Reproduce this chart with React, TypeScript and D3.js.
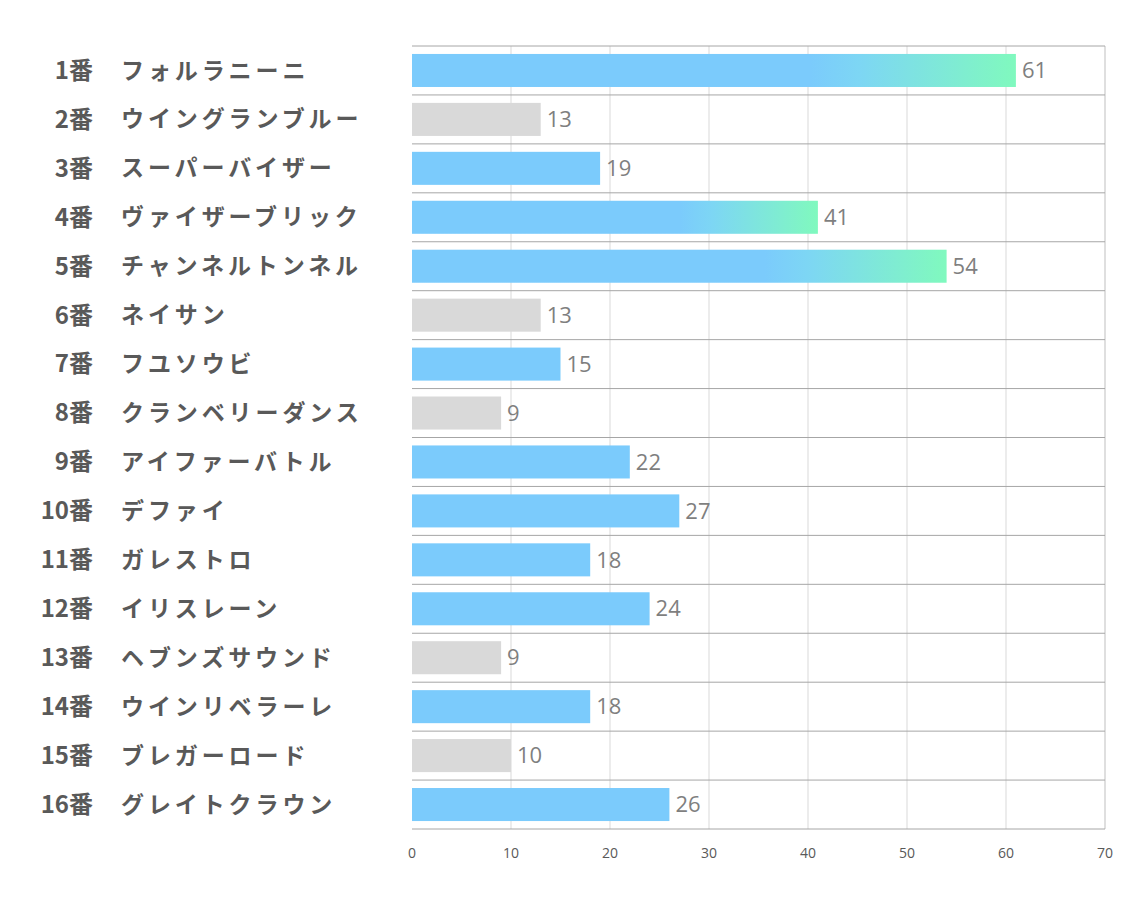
import React from "react";
import * as d3 from "d3";

const numbers = ["1番","2番","3番","4番","5番","6番","7番","8番","9番","10番","11番","12番","13番","14番","15番","16番"];
const names = ["フォルラニーニ","ウイングランブルー","スーパーバイザー","ヴァイザーブリック","チャンネルトンネル","ネイサン","フユソウビ","クランベリーダンス","アイファーバトル","デファイ","ガレストロ","イリスレーン","ヘブンズサウンド","ウインリベラーレ","ブレガーロード","グレイトクラウン"];
const values = [61,13,19,41,54,13,15,9,22,27,18,24,9,18,10,26];
// bar kind: "grad" = blue→green gradient, "blue", "gray"
const kinds = ["grad","gray","blue","grad","grad","gray","blue","gray","blue","blue","blue","blue","gray","blue","gray","blue"];
const xTicks = [0,10,20,30,40,50,60,70];

export default function App() {
  const W = 1134, H = 907;
  const left = 412, right = 1105, top = 46, bottom = 829;
  const x = d3.scaleLinear().domain([0, 70]).range([left, right]);
  const y = d3.scaleBand<number>().domain(d3.range(values.length)).range([top, bottom]).paddingInner(0.325).paddingOuter(0.1625);
  const step = y.step();
  const bw = y.bandwidth();
  const rowEdges = d3.range(values.length + 1).map(i => top + i * step);
  const fill = (k: string) => k === "grad" ? "url(#barGrad)" : k === "gray" ? "#D9D9D9" : "#7BCBFC";
  return (
    <svg width={W} height={H} style={{ position: "absolute", left: 0, top: 0, background: "#fff" }}>
      <defs>
        <linearGradient id="barGrad" x1="0" y1="0" x2="1" y2="0">
          <stop offset="0" stopColor="#7BCBFC" />
          <stop offset="0.66" stopColor="#7BCBFC" />
          <stop offset="0.74" stopColor="#7DD6F4" />
          <stop offset="1" stopColor="#80F9BE" />
        </linearGradient>
      </defs>
      <rect x={0} y={0} width={W} height={H} fill="#fff" />
      {xTicks.slice(1, -1).map(t => (
        <line key={"v" + t} x1={x(t)} x2={x(t)} y1={top} y2={bottom} stroke="#D9D9D9" strokeWidth={1} />
      ))}
      <line x1={x(70)} x2={x(70)} y1={top} y2={bottom} stroke="#BFBFBF" strokeWidth={1} />
      {rowEdges.map((yy, i) => (
        <line key={"h" + i} x1={left} x2={right} y1={yy} y2={yy} stroke="#A6A6A6" strokeWidth={1} />
      ))}
      {values.map((v, i) => (
        <rect key={"b" + i} x={x(0)} y={y(i)!} width={x(v) - x(0)} height={bw} fill={fill(kinds[i])} />
      ))}
      {values.map((v, i) => (
        <text key={"l" + i} x={x(v) + 6} y={y(i)! + bw / 2} dy="0.35em" fontSize={22}
          fontFamily="'Liberation Sans Narrow', 'Open Sans', sans-serif" fill="#7F7F7F">{v}</text>
      ))}
      {numbers.map((n, i) => (
        <text key={"n" + i} x={93} y={y(i)! + bw / 2} dy="0.35em" textAnchor="end" fontSize={24} fontWeight="bold"
          fontFamily="'Noto Sans CJK JP', sans-serif" fill="#595959">{n}</text>
      ))}
      {names.map((n, i) => (
        <text key={"m" + i} x={121} y={y(i)! + bw / 2} dy="0.35em" fontSize={23} letterSpacing={3.9} fontWeight="bold"
          fontFamily="'Noto Sans CJK JP', sans-serif" fill="#595959">{n}</text>
      ))}
      {xTicks.map(t => (
        <text key={"t" + t} x={x(t)} y={853} dy="0.35em" textAnchor="middle" fontSize={14}
          fontFamily="'Liberation Sans Narrow', 'Open Sans', sans-serif" fill="#595959">{t}</text>
      ))}
    </svg>
  );
}
